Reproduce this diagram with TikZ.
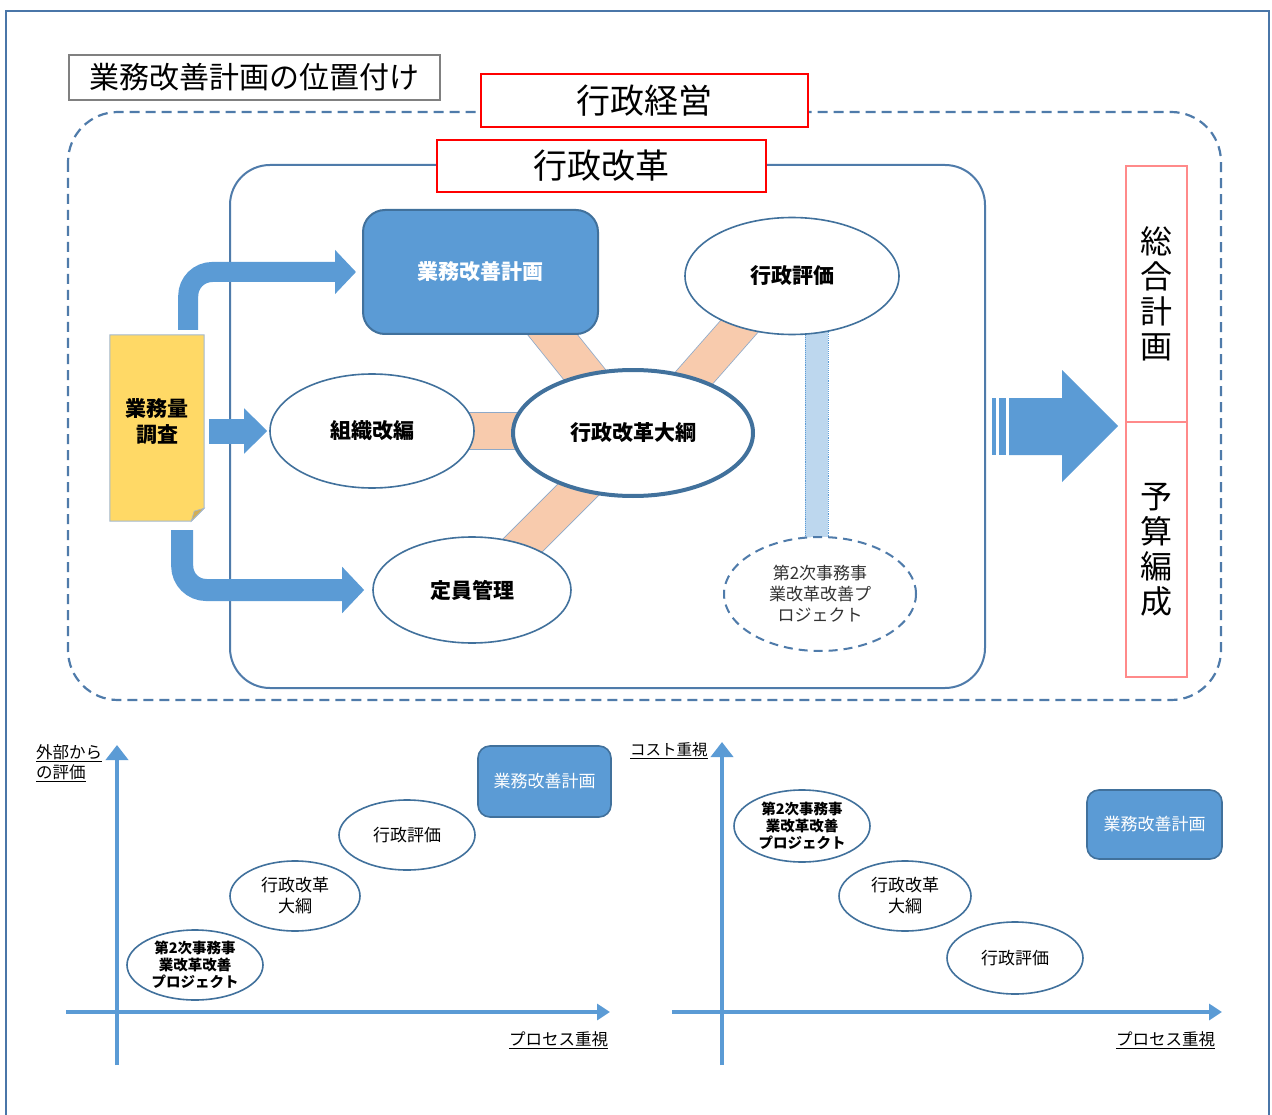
\documentclass[tikz,border=0pt]{standalone}
\usepackage{fontspec}
\setmainfont{Noto Sans CJK JP}
\usetikzlibrary{shapes.geometric,arrows.meta,calc,backgrounds}
\definecolor{frameblue}{HTML}{4A76A8}
\definecolor{dashblue}{HTML}{4F7BAA}
\definecolor{fillblue}{HTML}{5B9BD5}
\definecolor{darkblue}{HTML}{41719C}
\definecolor{peach}{HTML}{F8CBAD}
\definecolor{bandedge}{HTML}{8EA9C8}
\definecolor{lightblue}{HTML}{BDD7EE}
\definecolor{docyellow}{HTML}{FFD966}
\definecolor{docedge}{HTML}{A3B8CF}
\definecolor{foldyellow}{HTML}{D2AE55}
\definecolor{pinkred}{HTML}{FF8A8A}
\definecolor{projtext}{HTML}{333333}
\newcommand{\fsz}[2]{\fontsize{#1}{#2}\selectfont}
\begin{document}
\begin{tikzpicture}[x=1pt,y=-1pt,
  titlebox/.style={draw=gray, line width=1.2pt, fill=white, inner sep=0pt, font=\fsz{30}{34}},
  redbox/.style={draw=red, line width=2.5pt, fill=white, inner sep=0pt, font=\fsz{34}{38}},
  planbox/.style={draw=darkblue, fill=fillblue, line width=2pt, inner sep=0pt, text=white, font=\bfseries\fsz{21}{25}},
  smallplan/.style={draw=darkblue, fill=fillblue, line width=1.6pt, rounded corners=12pt, inner sep=0pt, text=white, font=\fsz{17}{20}},
  oval/.style={ellipse, draw=darkblue, line width=1.6pt, fill=white, inner sep=0pt, align=center},
  bigtext/.style={font=\bfseries\fsz{21}{25}},
  vbox/.style={draw=pinkred, line width=1.2pt, fill=white, inner sep=0pt, align=center, font=\fsz{32}{35}},
  flowarrow/.style={draw=fillblue, line width=21pt, -{Triangle[length=21pt,width=43pt]}},
  axisline/.style={draw=fillblue, line width=4pt},
  bandout/.style={draw=bandedge, line width=#1},
  bandin/.style={draw=peach, line width=#1},
  axlabel/.style={inner sep=0pt, anchor=north west, align=left, font=\fsz{16.5}{20}}
]
\useasboundingbox (0,0) rectangle (1272,1115);
% outer frame
\draw[frameblue, line width=2pt] (6,11) rectangle (1269,1135);
% containers
\draw[dashblue, line width=2.2pt, dash pattern=on 10pt off 6pt, rounded corners=50pt] (68,112) rectangle (1221,700);
\draw[dashblue, line width=2pt, rounded corners=40pt] (230,165) rectangle (985,688);

% title and red boxes
\node[titlebox, minimum width=371pt, minimum height=45pt] (title) at (254.5,77.5) {業務改善計画の位置付け};
\node[redbox, minimum width=327pt, minimum height=53pt] (keiei) at (644.5,100.5) {行政経営};
\node[redbox, minimum width=329pt, minimum height=52pt] (kaikaku) at (601.5,166) {行政改革};

% main nodes
\node[planbox, rounded corners=22pt, minimum width=235pt, minimum height=124pt] (plan) at (480.5,272) {業務改善計画};
\node[oval, bigtext, minimum width=214pt, minimum height=117pt] (eval) at (792,276) {行政評価};
\node[oval, bigtext, minimum width=204pt, minimum height=114pt] (org) at (372,431) {組織改編};
\node[oval, bigtext, line width=4pt, minimum width=240pt, minimum height=126pt] (main) at (633,433) {行政改革大綱};
\node[oval, bigtext, minimum width=198pt, minimum height=106pt] (staff) at (472,590) {定員管理};
\node[oval, dashed, dash pattern=on 9pt off 6pt, line width=2pt, draw=dashblue, minimum width=192pt, minimum height=114pt, text=projtext, font=\fsz{17}{21}] (proj) at (820,594) {第2次事務事\\業改革改善プ\\ロジェクト};

% document shape
\node[minimum width=94pt, minimum height=186pt, inner sep=0pt] (doc) at (157,428) {};
\fill[docyellow, draw=docedge, line width=1pt] (doc.north west) -- (doc.north east) -- ($(doc.south east)+(0,-13)$) -- ($(doc.south east)+(-13,0)$) -- (doc.south west) -- cycle;
\fill[foldyellow, draw=docedge, line width=0.6pt] ($(doc.south east)+(-13,0)$) -- ($(doc.south east)+(-10,-10)$) -- ($(doc.south east)+(0,-13)$) -- cycle;
\node[align=center, inner sep=0pt, font=\bfseries\fsz{21}{26}] (doctext) at ($(doc.center)+(0,-6)$) {業務量\\調査};

% arrows from document
\draw[flowarrow, line width=20pt, rounded corners=24pt, shorten >=6pt] ($(doc.north east)+(-16,-5)$) |- (plan.west);
\draw[flowarrow, line width=25pt, -{Triangle[length=23pt,width=44pt]}, shorten >=2pt] ($(doc.east)+(5,3)$) -- (org.west);
\draw[flowarrow, line width=22pt, rounded corners=24pt, -{Triangle[length=22pt,width=45pt]}, shorten >=8pt] ($(doc.south east)+(-22,9)$) |- (staff.west);

% right boxes
\node[vbox, minimum width=61pt, minimum height=256pt] (sogo) at (1156.5,294) {総\\合\\計\\画};
\node[vbox, minimum width=61pt, minimum height=255pt] (yosan) at (1156.5,549.5) {予\\算\\編\\成};

% big arrow
\fill[fillblue] (992,398) rectangle (996,455);
\fill[fillblue] (999,398) rectangle (1006,455);
\fill[fillblue] (1009,398) -- (1062,398) -- (1062,370) -- (1118,426) -- (1062,482) -- (1062,455) -- (1009,455) -- cycle;

% band end points
\coordinate (b1a) at ($(plan.center)+(55.8,42.5)$);
\coordinate (b1b) at ($(main.center)+(-35.5,-42.4)$);
\coordinate (b2a) at ($(eval.center)+(-33,28)$);
\coordinate (b2b) at ($(main.center)+(42.5,-34)$);
\coordinate (b3a) at ($(org.center)+(60,0)$);
\coordinate (b3b) at ($(main.center)+(-70,-2)$);
\coordinate (b4a) at ($(main.center)+(-34,36)$);
\coordinate (b4b) at ($(staff.center)+(34.8,-28.8)$);

% bands on background
\begin{scope}[on background layer]
\fill[white] (0,0) rectangle (1272,1115);
\draw[bandout=39.6pt] (b1a) -- (b1b);
\draw[bandin=38pt] (b1a) -- (b1b);
\draw[bandout=36.6pt] (b2a) -- (b2b);
\draw[bandin=35pt] (b2a) -- (b2b);
\draw[bandout=37.6pt] (b3a) -- (b3b);
\draw[bandin=36pt] (b3a) -- (b3b);
\draw[bandout=37.6pt] (b4a) -- (b4b);
\draw[bandin=36pt] (b4a) -- (b4b);
\draw[draw=fillblue, fill=lightblue, line width=0.9pt, densely dotted] ($(eval.south)+(13,-4)$) rectangle ($(proj.north)+(8,5)$);
\end{scope}

% ===== bottom left chart =====
\draw[axisline, -{Triangle[length=15pt,width=22pt]}] (117,1065) -- (117,745);
\draw[axisline, -{Triangle[length=13pt,width=16pt]}] (66,1012) -- (610,1012);
\node[axlabel] (ly) at (36,744) {\underline{外部から}\\\underline{の評価}};
\node[axlabel] (lx) at (509,1031) {\underline{プロセス重視}};
\node[smallplan, minimum width=133pt, minimum height=71pt] (lplan) at (544.5,781.5) {業務改善計画};
\node[oval, minimum width=136pt, minimum height=70pt, font=\fsz{17}{21}] (leval) at (407,835) {行政評価};
\node[oval, minimum width=130pt, minimum height=70pt, font=\fsz{17}{21}] (lmain) at (295,896) {行政改革\\大綱};
\node[oval, minimum width=136pt, minimum height=70pt, font=\bfseries\fsz{14.5}{17}] (lproj) at (195,965) {第2次事務事\\業改革改善\\プロジェクト};

% ===== bottom right chart =====
\draw[axisline, -{Triangle[length=15pt,width=22pt]}] (722,1065) -- (722,742);
\draw[axisline, -{Triangle[length=13pt,width=16pt]}] (672,1012) -- (1222,1012);
\node[axlabel, font=\fsz{15.5}{20}] (ry) at (630,742) {\underline{コスト重視}};
\node[axlabel] (rx) at (1116,1031) {\underline{プロセス重視}};
\node[smallplan, minimum width=135pt, minimum height=69pt] (rplan) at (1154.5,824.5) {業務改善計画};
\node[oval, minimum width=136pt, minimum height=72pt, font=\bfseries\fsz{14.5}{17}] (rproj) at (802,826) {第2次事務事\\業改革改善\\プロジェクト};
\node[oval, minimum width=132pt, minimum height=70pt, font=\fsz{17}{21}] (rmain) at (905,896) {行政改革\\大綱};
\node[oval, minimum width=136pt, minimum height=72pt, font=\fsz{17}{21}] (reval) at (1015,958) {行政評価};
\end{tikzpicture}
\end{document}
